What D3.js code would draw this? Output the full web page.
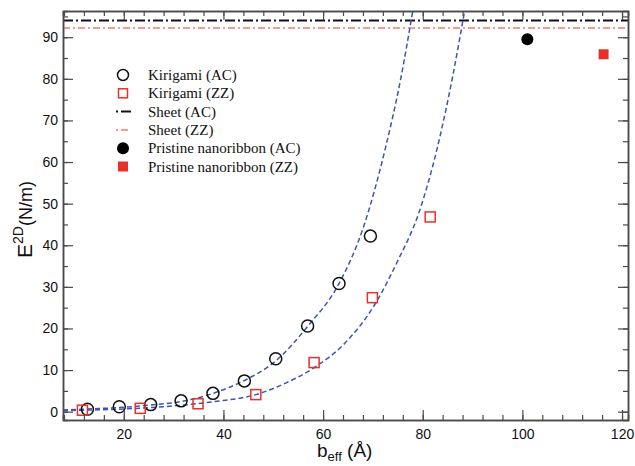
<!DOCTYPE html>
<html>
<head>
<meta charset="utf-8">
<script src="https://cdn.jsdelivr.net/npm/d3@7"></script>
<style>
  body { margin: 0; background: #fff; }
  svg { display: block; }
</style>
</head>
<body>
<svg id="chart" width="635" height="466"></svg>
<script>
// Kirigami (AC) points
const kiriAC = [
  [12.7, 0.6], [19.1, 1.2], [25.4, 1.7], [31.5, 2.6], [37.9, 4.4],
  [44.2, 7.4], [50.5, 12.7], [56.9, 20.6], [63.2, 30.8], [69.5, 42.2]
];
// Kirigami (ZZ) points
const kiriZZ = [
  [11.7, 0.35], [23.3, 0.8], [34.9, 1.9], [46.5, 4.1], [58.2, 11.8],
  [69.9, 27.4], [81.5, 46.8]
];
// fitted curves
const fitAC = [
  [7.8, 0.4], [15, 0.75], [20, 1.05], [25, 1.55], [31.2, 2.4], [37.9, 4.4],
  [44.2, 7.5], [50.5, 12.2], [56.9, 20.5], [63.2, 30.8], [68, 44], [72.5, 63.3],
  [75.5, 79.5], [78, 96.3]
];
const fitZZ = [
  [7.8, 0.25], [15, 0.45], [20, 0.65], [25, 0.95], [31.2, 1.5], [38, 2.4],
  [46.5, 4.1], [52, 6.6], [58.5, 10.8], [64, 16], [70.5, 26], [75, 36.3],
  [79.2, 47.7], [82.9, 63.3], [86, 80.5], [88.4, 96.3]
];
const sheetAC = 94.0;
const sheetZZ = 92.2;
const pristineAC = [[101, 89.5]];
const pristineZZ = [[116.3, 85.9]];

const xTicks = [20, 40, 60, 80, 100, 120];
const yTicks = [0, 10, 20, 30, 40, 50, 60, 70, 80, 90];

const legendItems = [
  { label: "Kirigami (AC)", kind: "openCircle" },
  { label: "Kirigami (ZZ)", kind: "openSquare" },
  { label: "Sheet (AC)", kind: "lineAC" },
  { label: "Sheet (ZZ)", kind: "lineZZ" },
  { label: "Pristine nanoribbon (AC)", kind: "fillCircle" },
  { label: "Pristine nanoribbon (ZZ)", kind: "fillSquare" }
];

const red = "#e8302a";
const salmon = "#f47c6a";
const blue = "#3d55b3";
const axisCol = "#4a4a4a";

const margin = { top: 11, right: 7, bottom: 46, left: 63 };
const width = 635, height = 466;
const svg = d3.select("#chart");

const x = d3.scaleLinear([7.8, 121.2], [margin.left, width - margin.right]);
const y = d3.scaleLinear([-2, 96.3], [height - margin.bottom, margin.top]);

svg.append("defs").append("clipPath").attr("id", "clip")
  .append("rect")
  .attr("x", x.range()[0]).attr("y", y.range()[1])
  .attr("width", x.range()[1] - x.range()[0])
  .attr("height", y.range()[0] - y.range()[1]);

const plot = svg.append("g").attr("clip-path", "url(#clip)");

// sheet lines
plot.append("line")
  .attr("x1", x.range()[0]).attr("x2", x.range()[1])
  .attr("y1", y(sheetAC)).attr("y2", y(sheetAC))
  .attr("stroke", "#111").attr("stroke-width", 2)
  .attr("stroke-dasharray", "10,3,2,3");
plot.append("line")
  .attr("x1", x.range()[0]).attr("x2", x.range()[1])
  .attr("y1", y(sheetZZ)).attr("y2", y(sheetZZ))
  .attr("stroke", salmon).attr("stroke-width", 1.5)
  .attr("stroke-dasharray", "7,3,2,3");

// fit curves
const line = d3.line().x(d => x(d[0])).y(d => y(d[1])).curve(d3.curveMonotoneX);
[fitAC, fitZZ].forEach(f => {
  plot.append("path").attr("d", line(f))
    .attr("fill", "none").attr("stroke", blue)
    .attr("stroke-width", 1.5).attr("stroke-dasharray", "5,3");
});

// markers
plot.selectAll(".kac").data(kiriAC).join("circle")
  .attr("cx", d => x(d[0])).attr("cy", d => y(d[1])).attr("r", 6)
  .attr("fill", "none").attr("stroke", "#111").attr("stroke-width", 1.5);
plot.selectAll(".kzz").data(kiriZZ).join("rect")
  .attr("x", d => x(d[0]) - 5).attr("y", d => y(d[1]) - 5)
  .attr("width", 10).attr("height", 10)
  .attr("fill", "none").attr("stroke", red).attr("stroke-width", 1.5);
plot.selectAll(".pac").data(pristineAC).join("circle")
  .attr("cx", d => x(d[0])).attr("cy", d => y(d[1])).attr("r", 6)
  .attr("fill", "#000");
plot.selectAll(".pzz").data(pristineZZ).join("rect")
  .attr("x", d => x(d[0]) - 5).attr("y", d => y(d[1]) - 5)
  .attr("width", 10).attr("height", 10)
  .attr("fill", red);

// axes
const xMinor = d3.range(8, 121, 4);
const yMinor = d3.range(0, 96, 5);
const font = "'Liberation Sans', Arial, sans-serif";

function styleAxis(g) {
  g.select(".domain").attr("stroke", axisCol).attr("stroke-width", 1.5);
  g.selectAll(".tick line").attr("stroke", axisCol).attr("stroke-width", 1.2);
  g.selectAll(".tick text").attr("fill", "#111")
    .style("font", `14px ${font}`);
}

const yBot = height - margin.bottom, yTop = margin.top;
const xLeft = margin.left, xRight = width - margin.right;

// minor ticks
svg.append("g").attr("transform", `translate(0,${yBot})`)
  .call(d3.axisBottom(x).tickValues(xMinor).tickSize(-5).tickFormat(""))
  .call(styleAxis);
svg.append("g").attr("transform", `translate(0,${yTop})`)
  .call(d3.axisTop(x).tickValues(xMinor).tickSize(-5).tickFormat(""))
  .call(styleAxis);
svg.append("g").attr("transform", `translate(${xLeft},0)`)
  .call(d3.axisLeft(y).tickValues(yMinor).tickSize(-5).tickFormat(""))
  .call(styleAxis);
svg.append("g").attr("transform", `translate(${xRight},0)`)
  .call(d3.axisRight(y).tickValues(yMinor).tickSize(-5).tickFormat(""))
  .call(styleAxis);

// major ticks
svg.append("g").attr("transform", `translate(0,${yBot})`)
  .call(d3.axisBottom(x).tickValues(xTicks).tickSize(-10).tickPadding(6).tickSizeOuter(0))
  .call(styleAxis)
  .call(g => g.selectAll(".tick text").attr("dy", "1.05em").attr("y", 4));
svg.append("g").attr("transform", `translate(0,${yTop})`)
  .call(d3.axisTop(x).tickValues(xTicks).tickSize(-9).tickFormat("").tickSizeOuter(0))
  .call(styleAxis);
svg.append("g").attr("transform", `translate(${xLeft},0)`)
  .call(d3.axisLeft(y).tickValues(yTicks).tickSize(-10).tickPadding(5).tickSizeOuter(0))
  .call(styleAxis)
  .call(g => g.selectAll(".tick text").attr("x", -5));
svg.append("g").attr("transform", `translate(${xRight},0)`)
  .call(d3.axisRight(y).tickValues(yTicks).tickSize(-10).tickFormat("").tickSizeOuter(0))
  .call(styleAxis);

// axis titles
const xt = svg.append("text")
  .attr("x", 317).attr("y", 457)
  .attr("fill", "#111").style("font", `19px ${font}`);
xt.append("tspan").text("b");
xt.append("tspan").attr("dy", 4).style("font-size", "13px").text("eff");
xt.append("tspan").attr("dy", -4).text(" (Å)");

const yt = svg.append("text")
  .attr("transform", "translate(32,258) rotate(-90)")
  .attr("fill", "#111").style("font", `21px ${font}`);
yt.append("tspan").text("E");
yt.append("tspan").attr("dy", -9).style("font-size", "14px").text("2D");
yt.append("tspan").attr("dy", 9).style("font-size", "18px").text("(N/m)");

// legend
const lg = svg.append("g");
const lx = 123, ly0 = 75, lstep = 18.3;
legendItems.forEach((it, i) => {
  const cy = ly0 + i * lstep;
  const g = lg.append("g");
  if (it.kind === "openCircle") {
    g.append("circle").attr("cx", lx).attr("cy", cy).attr("r", 5.5)
      .attr("fill", "none").attr("stroke", "#111").attr("stroke-width", 1.5);
  } else if (it.kind === "openSquare") {
    g.append("rect").attr("x", lx - 4.5).attr("y", cy - 4.5).attr("width", 9).attr("height", 9)
      .attr("fill", "none").attr("stroke", red).attr("stroke-width", 1.5);
  } else if (it.kind === "lineAC") {
    g.append("line").attr("x1", lx - 7).attr("x2", lx + 8).attr("y1", cy).attr("y2", cy)
      .attr("stroke", "#111").attr("stroke-width", 2).attr("stroke-dasharray", "2,3,10,3");
  } else if (it.kind === "lineZZ") {
    g.append("line").attr("x1", lx - 7).attr("x2", lx + 8).attr("y1", cy).attr("y2", cy)
      .attr("stroke", salmon).attr("stroke-width", 1.5).attr("stroke-dasharray", "2,3,7,3");
  } else if (it.kind === "fillCircle") {
    g.append("circle").attr("cx", lx).attr("cy", cy).attr("r", 6).attr("fill", "#000");
  } else {
    g.append("rect").attr("x", lx - 5).attr("y", cy - 5).attr("width", 10).attr("height", 10)
      .attr("fill", red);
  }
  g.append("text").attr("x", 148).attr("y", cy + 5)
    .attr("fill", "#111")
    .style("font", "15px 'Liberation Serif', 'Times New Roman', serif")
    .text(it.label);
});
</script>
</body>
</html>
